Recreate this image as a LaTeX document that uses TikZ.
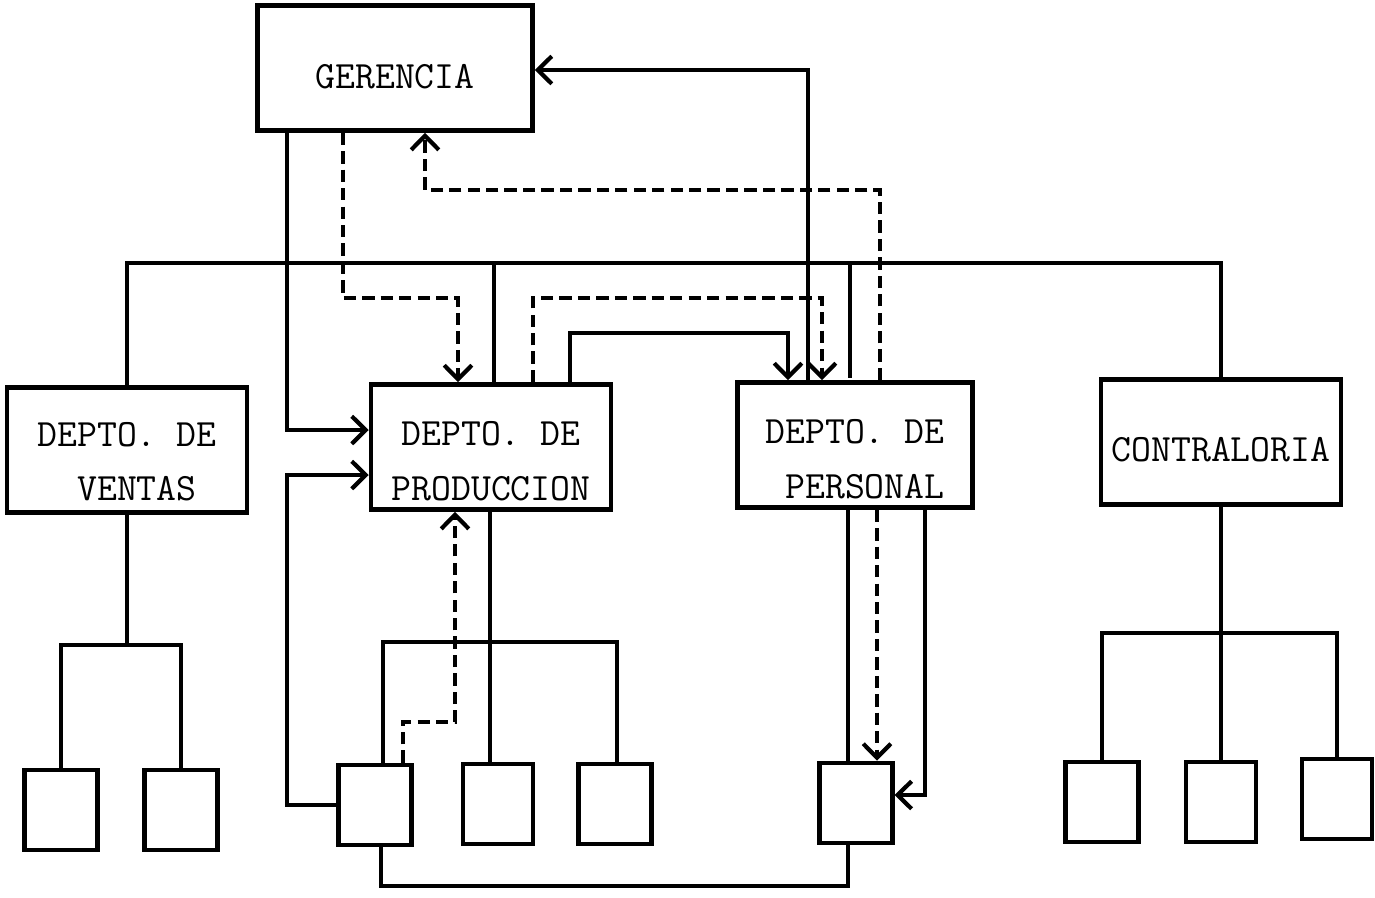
\documentclass[tikz,border=0pt]{standalone}
\usepackage{fontspec}
\usepackage{tikz}
\usetikzlibrary{arrows.meta, positioning, calc}
\tikzstyle{dept} = [rectangle, draw=black, line width=2.6pt, fill=white, minimum width=4.8cm, minimum height=2.5cm,
    inner sep=0pt, text centered, align=center, font=\fontsize{22}{31}\selectfont\ttfamily]
\tikzstyle{unit} = [rectangle, draw=black, line width=2.6pt, fill=white, minimum width=1.45cm, minimum height=1.6cm]
\tikzstyle{conn} = [line width=2.4pt]
\tikzstyle{arrow} = [line width=2.4pt, -{Straight Barb[length=2.8mm, width=5.5mm]}]
\tikzstyle{dashline} = [dash pattern=on 7pt off 3.5pt]
\newcommand{\txtdrop}[1]{\rule{0pt}{#1}}

\begin{document}
\begin{tikzpicture}[x=0.02cm, y=-0.02cm]
\useasboundingbox (0,0) rectangle (1375,897);
% bloques principales
\node (ger) [dept, minimum width=5.5cm] at (395,68) {\txtdrop{24pt}GERENCIA};
\node (vent) [dept] at (127,450) {\txtdrop{27pt}DEPTO. DE\\~VENTAS};
\node (prod) [dept] at (491,447) {\txtdrop{30pt}DEPTO. DE\\PRODUCCION};
\node (pers) [dept, minimum width=4.7cm] at (855,445) {\txtdrop{30pt}DEPTO. DE\\~PERSONAL};
\node (contra) [dept] at (1221,442) {\txtdrop{22pt}CONTRALORIA};
% unidades
\node (v1) [unit] at (61,810) {};
\node (v2) [unit] at (181,810) {};
\node (p1) [unit] at (375,805) {};
\node (p2) [unit, minimum width=1.4cm] at (498,804) {};
\node (p3) [unit] at (615,804) {};
\node (q1) [unit] at (856,803) {};
\node (c1) [unit] at (1102,802) {};
\node (c2) [unit, minimum width=1.4cm] at (1221,802) {};
\node (c3) [unit, minimum width=1.4cm] at (1337,799) {};

% linea general
\coordinate (busR) at (1221,263);
\draw[conn] (vent.north) |- (busR) -- (contra.north);
\draw[conn] (494,263) -- (prod.north -| 494,0);
\draw[conn] (850,263) -- (850,378);

% gerencia
\draw[arrow] (ger.south -| 287,0) |- (prod.west |- 0,430);
\draw[arrow, dashline] (ger.south -| 343,0) |- (458,298) -- (prod.north -| 458,0);
\draw[arrow, dashline] (pers.north -| 880,0) |- (425,190) -- (ger.south -| 425,0);
\draw[arrow] (pers.north -| 808,0) |- (ger.east |- 0,70);
\draw[arrow, dashline] (prod.north -| 533,0) |- (822,298) -- (pers.north -| 822,0);
\draw[arrow] (prod.north -| 570,0) |- (788,333) -- (pers.north -| 788,0);

% ventas
\coordinate (vj) at (127,645);
\draw[conn] (vent.south) -- (vj);
\draw[conn] (v1.north) |- (vj) -| (v2.north);

% produccion
\draw[conn] (prod.south -| 490,0) -- (p2.north -| 490,0);
\draw[conn] (p1.north -| 383,0) |- (617,642) -- (p3.north -| 617,0);
\draw[arrow, dashline] (p1.north -| 403,0) |- (455,722) -- (prod.south -| 455,0);
\draw[arrow] (p1.west) -| (287,475) -- (prod.west |- 0,475);
\draw[conn] (p1.south -| 381,0) |- (848,886) -- (q1.south -| 848,0);

% personal
\draw[conn] (pers.south -| 848,0) -- (q1.north -| 848,0);
\draw[arrow, dashline] (pers.south -| 877,0) -- (q1.north -| 877,0);
\draw[arrow] (pers.south -| 925,0) |- (q1.east |- 0,795);

% contraloria
\coordinate (cj) at (1221,633);
\draw[conn] (contra.south) -- (c2.north);
\draw[conn] (c1.north) |- (cj) -| (c3.north);
\end{tikzpicture}
\end{document}
